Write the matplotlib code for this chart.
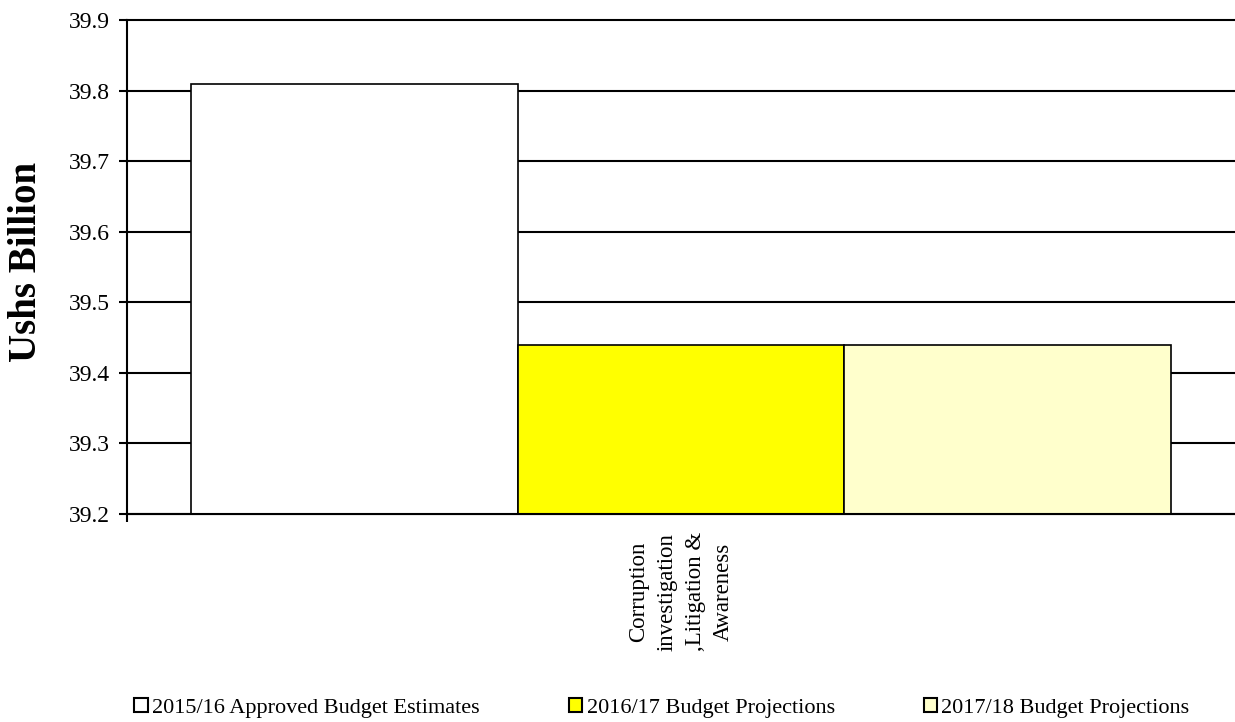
# Budget allocation chart: Corruption investigation, Litigation & Awareness

import matplotlib
matplotlib.use('Agg')
import matplotlib.pyplot as plt
import matplotlib.transforms as mtransforms
from matplotlib.patches import Patch

categories = ['Corruption\ninvestigation\n,Litigation &\nAwareness']
series_names = ['2015/16 Approved Budget Estimates',
                '2016/17 Budget Projections',
                '2017/18 Budget Projections']
series_values = [[39.81], [39.44], [39.44]]
series_colors = ['#FFFFFF', '#FFFF00', '#FFFFCC']
y_ticks = [39.2, 39.3, 39.4, 39.5, 39.6, 39.7, 39.8, 39.9]

plt.rcParams['font.family'] = ['Liberation Serif', 'DejaVu Serif']

fig = plt.figure(figsize=(12.35, 7.22), dpi=100)
ax = fig.add_axes([0.1028, 0.2881, 0.8972, 0.6842])

bar_w = 0.295
n = len(series_names)
for i, (name, vals, col) in enumerate(zip(series_names, series_values, series_colors)):
    xs = [k + (i - (n - 1) / 2) * bar_w for k in range(len(categories))]
    ax.bar(xs, [v - y_ticks[0] for v in vals], bottom=y_ticks[0], width=bar_w,
           color=col, edgecolor='black', linewidth=1.2, zorder=3, label=name)

ax.set_xlim(-0.5, len(categories) - 0.5)
ax.set_ylim(y_ticks[0], y_ticks[-1])
ax.set_yticks(y_ticks)
ax.set_yticklabels(['%.1f' % t for t in y_ticks], fontsize=17)
ax.yaxis.grid(True, color='black', linewidth=1.5, zorder=0)
ax.set_axisbelow(True)
for gl in ax.get_ygridlines():
    gl.set_clip_on(False)

ax.set_xticks(range(len(categories)))
ax.set_xticklabels(categories, rotation=90, fontsize=16.5, va='top', ha='center',
                   multialignment='center', linespacing=1.45)
# nudge the category label a few pixels right, as in the original
shift = mtransforms.ScaledTranslation(5 / 100, 0, fig.dpi_scale_trans)
for lbl in ax.get_xticklabels():
    lbl.set_transform(lbl.get_transform() + shift)
ax.set_xticks([-0.5], minor=True)
ax.tick_params(axis='x', which='major', length=0, pad=13)
ax.tick_params(axis='x', which='minor', length=6, width=1.5, direction='out')
ax.tick_params(axis='y', length=6, width=1.5, direction='out', pad=6)

for s in ['top', 'right']:
    ax.spines[s].set_visible(False)
for s in ['left', 'bottom']:
    ax.spines[s].set_linewidth(1.5)
    ax.spines[s].set_zorder(4)

ax.set_ylabel('Ushs Billion', fontsize=28, fontweight='bold')
ax.yaxis.set_label_coords(-0.074, 0.51)

handles = [Patch(facecolor=c, edgecolor='black', linewidth=1.5) for c in series_colors]
fig.legend(handles, series_names, loc='center', bbox_to_anchor=(0.536, 0.019),
           ncol=3, frameon=False, fontsize=16, handlelength=0.6, handleheight=0.6,
           handletextpad=0.2, columnspacing=4.0, borderaxespad=0, borderpad=0)

fig.savefig('out.png', dpi=100)
